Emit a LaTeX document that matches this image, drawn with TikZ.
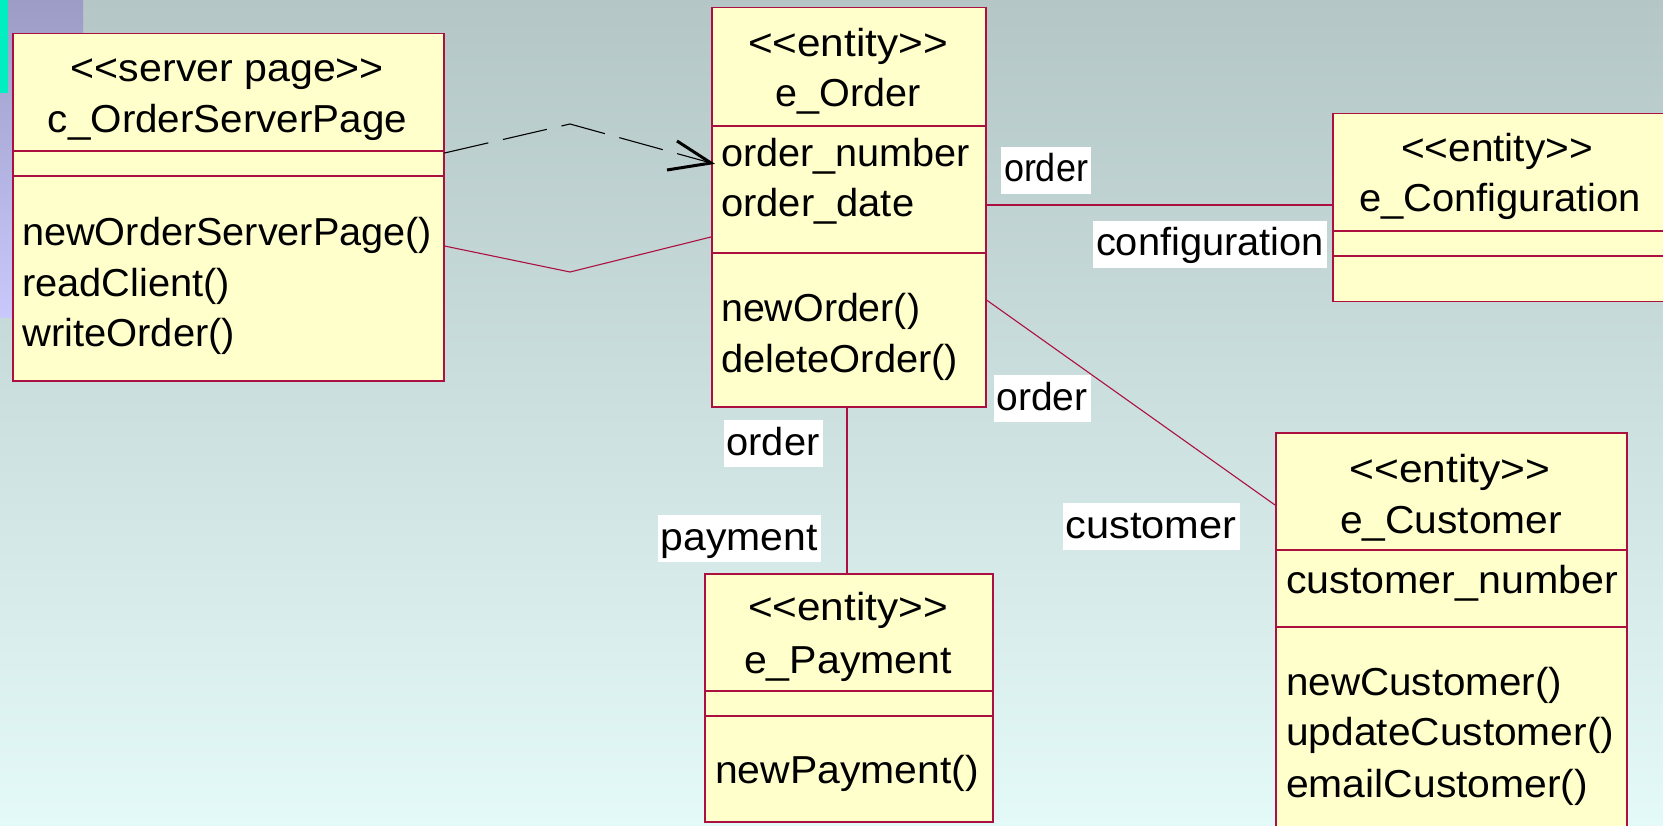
\documentclass[tikz,border=0pt]{standalone}
\usepackage{fontspec}
\setmainfont{Liberation Sans}
\usepackage{graphicx}
\definecolor{umlred}{RGB}{172,16,64}
\definecolor{umlfill}{RGB}{255,255,204}
\definecolor{bgtop}{RGB}{180,198,198}
\definecolor{bgbot}{RGB}{228,250,248}
\definecolor{lavtop}{RGB}{156,156,198}
\definecolor{lavbot}{RGB}{200,200,252}
\definecolor{tealbar}{RGB}{0,238,192}
\newcommand\fitw[2]{\resizebox{#1pt}{\height}{#2}}
\newcommand\st[1]{<\kern0pt<#1>\kern0pt>}
\begin{document}
\begin{tikzpicture}[x=1pt,y=-1pt,
  box/.style={draw=umlred, fill=umlfill, line width=1.5pt, inner sep=0pt, anchor=north west},
  sep/.style={draw=umlred, line width=1.2pt},
  assoc/.style={draw=umlred, line width=1.1pt},
  dep/.style={draw=black, line width=1.1pt, dash pattern=on 45pt off 15pt},
  headline/.style={draw=black, line width=3pt},
  txt/.style={inner sep=0pt, anchor=base, font=\fontsize{39}{45}\selectfont},
  txtl/.style={txt, anchor=base west},
  lbl/.style={txt, fill=white, inner xsep=3pt, inner ysep=1pt, text height=34pt, text depth=11pt}]
\useasboundingbox (0,0) rectangle (1663,826);
\clip (0,0) rectangle (1663,826);
% background
\shade[top color=bgtop, bottom color=bgbot] (0,0) rectangle (1663,826);
\shade[top color=lavtop, bottom color=lavbot] (0,0) rectangle (83,318);
\fill[tealbar] (0,0) rectangle (8,93);

% boxes
\node[box, minimum width=431, minimum height=347] (srv) at (12,33) {};
\node[box, minimum width=274, minimum height=399] (ord) at (711,7) {};
\node[box, minimum width=340, minimum height=188] (conf) at (1332,113) {};
\node[box, minimum width=288, minimum height=248] (pay) at (704,573) {};
\node[box, minimum width=351, minimum height=420] (cust) at (1275,432) {};

% separators
\draw[sep] (srv.west |- 0,151) -- (srv.east |- 0,151);
\draw[sep] (srv.west |- 0,176) -- (srv.east |- 0,176);
\draw[sep] (ord.west |- 0,126) -- (ord.east |- 0,126);
\draw[sep] (ord.west |- 0,253) -- (ord.east |- 0,253);
\draw[sep] (conf.west |- 0,231) -- (conf.east |- 0,231);
\draw[sep] (conf.west |- 0,256) -- (conf.east |- 0,256);
\draw[sep] (pay.west |- 0,691) -- (pay.east |- 0,691);
\draw[sep] (pay.west |- 0,716) -- (pay.east |- 0,716);
\draw[sep] (cust.west |- 0,550) -- (cust.east |- 0,550);
\draw[sep] (cust.west |- 0,627) -- (cust.east |- 0,627);

% connectors
\coordinate (d1) at (570,124);
\coordinate (dtip) at (ord.west |- 0,163);
\coordinate (ah1) at (677,141);
\coordinate (ah2) at (667,170);
\draw[dep] (srv.east |- 0,153) -- (d1) -- (dtip);
\draw[headline] (ah1) -- (dtip) -- (ah2);
\coordinate (s1) at (570,272);
\draw[assoc] (srv.east |- 0,246) -- (s1) -- (ord.west |- 0,237);
\draw[assoc] (ord.east |- 0,205) -- (conf.west |- 0,205);
\draw[assoc] (ord.south -| 847,0) -- (pay.north -| 847,0);
\draw[assoc] (ord.east |- 0,300) -- (cust.west |- 0,505);

% c_OrderServerPage
\node[txt] (t1) at (227.5,82) {\fitw{313}{\st{server page}}};
\node[txt] (t2) at (227.5,133) {\fitw{359}{c\_OrderServerPage}};
\node[txtl] (t3) at (22,246) {\fitw{410}{newOrderServerPage()}};
\node[txtl] (t4) at (22,297) {\fitw{208}{readClient()}};
\node[txtl] (t5) at (22,347) {\fitw{213}{writeOrder()}};

% e_Order
\node[txt] (o1) at (848,57) {\fitw{200}{\st{entity}}};
\node[txt] (o2) at (848,107) {\fitw{145}{e\_Order}};
\node[txtl] (o3) at (721,167) {\fitw{249}{order\_number}};
\node[txtl] (o4) at (721,217) {\fitw{193}{order\_date}};
\node[txtl] (o5) at (721,322) {\fitw{199}{newOrder()}};
\node[txtl] (o6) at (721,372) {\fitw{237}{deleteOrder()}};

% e_Configuration
\node[txt] (c1) at (1497,162) {\fitw{192}{\st{entity}}};
\node[txt] (c2) at (1500,212) {\fitw{282}{e\_Configuration}};

% e_Payment
\node[txt] (p1) at (848,620) {\fitw{200}{\st{entity}}};
\node[txt] (p2) at (848,673) {\fitw{208}{e\_Payment}};
\node[txtl] (p3) at (715,783) {\fitw{264}{newPayment()}};

% e_Customer
\node[txt] (u1) at (1450,482) {\fitw{201}{\st{entity}}};
\node[txt] (u2) at (1451,533) {\fitw{222}{e\_Customer}};
\node[txtl] (u3) at (1286,593) {\fitw{332}{customer\_number}};
\node[txtl] (u4) at (1286,695) {\fitw{276}{newCustomer()}};
\node[txtl] (u5) at (1286,745) {\fitw{328}{updateCustomer()}};
\node[txtl] (u6) at (1286,797) {\fitw{302}{emailCustomer()}};

% role labels
\node[lbl] (l1) at (1046,182) {\fitw{84}{order}};
\node[lbl] (l2) at (1210,256) {\fitw{228}{configuration}};
\node[lbl] (l3) at (1042,410) {\fitw{91}{order}};
\node[lbl] (l4) at (1151,538) {\fitw{171}{customer}};
\node[lbl] (l5) at (773,455) {\fitw{93}{order}};
\node[lbl] (l6) at (739,550) {\fitw{157}{payment}};
\end{tikzpicture}
\end{document}
